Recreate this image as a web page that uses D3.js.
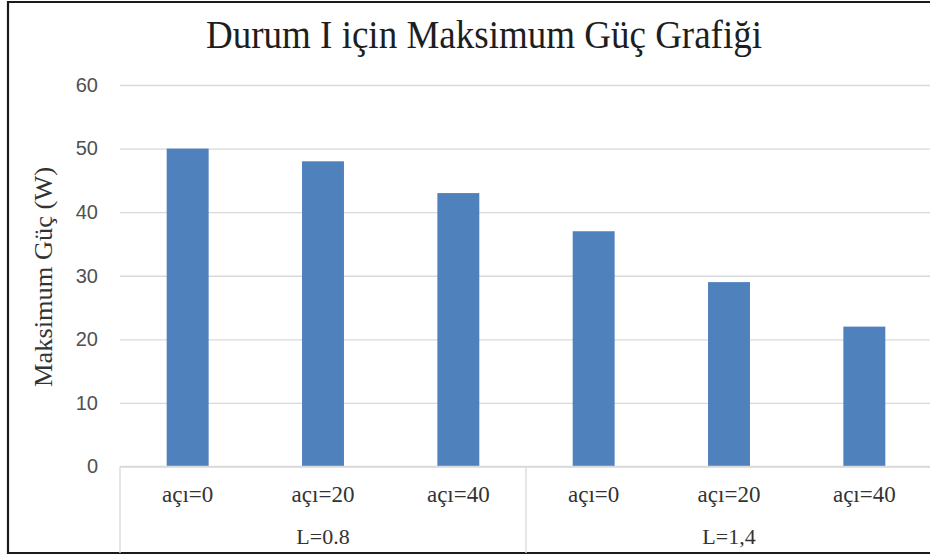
<!DOCTYPE html>
<html>
<head>
<meta charset="utf-8">
<script src="https://cdn.jsdelivr.net/npm/d3@7"></script>
<style>
  html, body { margin: 0; padding: 0; background: #fff; }
  svg { display: block; }
</style>
</head>
<body>
<svg id="chart" width="930" height="557"></svg>
<script>
// Chart data
const groups = ["L=0.8", "L=1,4"];
const angles = ["açı=0", "açı=20", "açı=40"];
const values = [50, 48, 43, 37, 29, 22];
const yTicks = [0, 10, 20, 30, 40, 50, 60];
const titleText = "Durum I için Maksimum  Güç Grafiği";
const yTitleText = "Maksimum  Güç (W)";

const W = 930, H = 557;
const plot = { left: 120, right: 932, top: 85, bottom: 466.5 };
const serif = "'Liberation Serif', 'Times New Roman', serif";
const sans = "'Liberation Sans', Arial, sans-serif";

const svg = d3.select("#chart");

// Outer frame (left, top, bottom edges visible)
svg.append("path")
  .attr("d", `M${W + 5},2 L8,2 L8,553 L${W + 5},553`)
  .attr("fill", "none").attr("stroke", "#1a1a1a").attr("stroke-width", 2.2);

// Flat category list: each angle within each group
const cats = [];
groups.forEach(g => angles.forEach(a => cats.push({ group: g, angle: a, key: g + "|" + a })));
cats.forEach((c, i) => c.value = values[i]);

const x = d3.scaleBand()
  .domain(cats.map(c => c.key))
  .range([plot.left, plot.right])
  .paddingInner(0.69)
  .paddingOuter(0.345);

const xg = d3.scaleBand()
  .domain(groups)
  .range([plot.left, plot.right]);

const y = d3.scaleLinear().domain([0, 60]).range([plot.bottom, plot.top]);

// Gridlines + y tick labels via axis
const yAxis = d3.axisLeft(y).tickValues(yTicks).tickSize(-(plot.right - plot.left)).tickPadding(22);
const gy = svg.append("g").attr("transform", `translate(${plot.left},0)`).call(yAxis);
gy.select(".domain").remove();
gy.selectAll(".tick line").attr("stroke", "#d9d9d9").attr("stroke-width", 1.3);
gy.selectAll(".tick text")
  .attr("font-family", sans).attr("font-size", 20).attr("fill", "#505050");

// Bars
svg.append("g").selectAll("rect").data(cats).join("rect")
  .attr("x", d => x(d.key))
  .attr("width", x.bandwidth())
  .attr("y", d => y(d.value))
  .attr("height", d => y(0) - y(d.value))
  .attr("fill", "#4f81bd");

// Category axis box
const axisG = svg.append("g").attr("stroke", "#d9d9d9").attr("stroke-width", 1.3);
axisG.append("line")
  .attr("x1", plot.left).attr("x2", plot.right)
  .attr("y1", plot.bottom).attr("y2", plot.bottom);
groups.forEach(g => {
  axisG.append("line")
    .attr("x1", xg(g)).attr("x2", xg(g))
    .attr("y1", plot.bottom).attr("y2", 553);
});

// Angle labels
svg.append("g").selectAll("text").data(cats).join("text")
  .attr("x", d => x(d.key) + x.bandwidth() / 2)
  .attr("y", 502)
  .attr("text-anchor", "middle")
  .attr("font-family", serif).attr("font-size", 23).attr("fill", "#333")
  .text(d => d.angle);

// Group labels
svg.append("g").selectAll("text").data(groups).join("text")
  .attr("x", g => xg(g) + xg.bandwidth() / 2)
  .attr("y", 544)
  .attr("text-anchor", "middle")
  .attr("font-family", serif).attr("font-size", 22).attr("fill", "#333")
  .text(g => g);

// Title
svg.append("text")
  .attr("x", 484).attr("y", 48)
  .attr("text-anchor", "middle")
  .attr("font-family", serif).attr("font-size", 39).attr("fill", "#1e1e1e")
  .attr("textLength", 556).attr("lengthAdjust", "spacingAndGlyphs")
  .text(titleText);

// Y axis title
svg.append("text")
  .attr("transform", "translate(52,277) rotate(-90)")
  .attr("text-anchor", "middle")
  .attr("font-family", serif).attr("font-size", 25).attr("fill", "#333")
  .attr("textLength", 220).attr("lengthAdjust", "spacingAndGlyphs")
  .text(yTitleText);
</script>
</body>
</html>
